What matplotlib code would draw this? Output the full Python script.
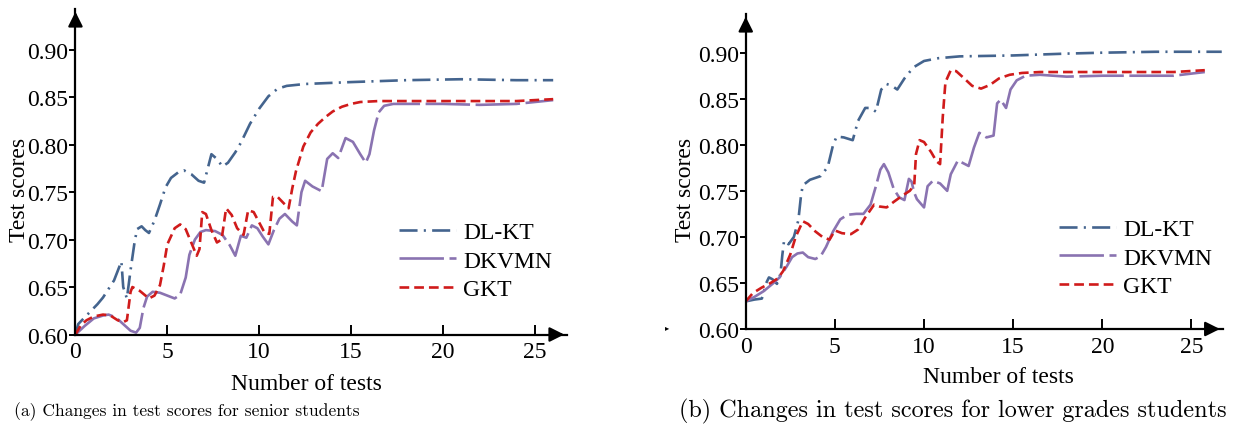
import matplotlib
matplotlib.use("Agg")
import matplotlib.pyplot as plt

plt.rcParams['font.family'] = ['Liberation Serif', 'DejaVu Serif']
plt.rcParams['lines.scale_dashes'] = False

# ---- data: (a) senior students ----
a_dlkt_x = [0.0, 0.15, 0.5, 0.8, 1.2, 1.5, 1.8, 2.1, 2.4, 2.5, 2.6, 2.8, 3.0, 3.2, 3.35, 3.6, 3.8, 4.0,
            4.3, 4.6, 4.9, 5.2, 5.6, 5.9, 6.3, 6.7, 7.0, 7.2, 7.4, 7.7, 8.0, 8.3, 8.7, 9.0, 9.5, 10.0,
            10.5, 11.0, 11.5, 12.5, 15.0, 18.0, 21.0, 24.0, 26.0]
a_dlkt_y = [0.600, 0.611, 0.618, 0.624, 0.632, 0.639, 0.648, 0.657, 0.672, 0.677, 0.650, 0.638, 0.668,
            0.695, 0.711, 0.714, 0.710, 0.707, 0.720, 0.737, 0.755, 0.765, 0.771, 0.773, 0.769, 0.762,
            0.760, 0.775, 0.790, 0.785, 0.777, 0.781, 0.792, 0.802, 0.822, 0.838, 0.851, 0.859, 0.862,
            0.864, 0.866, 0.868, 0.869, 0.868, 0.868]

a_dkvmn_x = [0.0, 0.5, 1.0, 1.5, 1.8, 2.2, 2.6, 3.0, 3.3, 3.5, 3.7, 3.9, 4.2, 4.6, 5.0, 5.4, 5.7, 6.0,
             6.2, 6.5, 6.8, 7.1, 7.6, 8.0, 8.4, 8.7, 9.0, 9.3, 9.6, 9.9, 10.2, 10.5, 10.8, 11.1, 11.4,
             11.8, 12.05, 12.3, 12.5, 12.9, 13.4, 13.7, 14.0, 14.3, 14.7, 15.1, 15.5, 15.8, 16.0, 16.25,
             16.5, 16.8, 17.3, 18.5, 20.0, 22.0, 24.0, 26.0]
a_dkvmn_y = [0.600, 0.609, 0.617, 0.620, 0.621, 0.618, 0.611, 0.604, 0.602, 0.607, 0.628, 0.640, 0.645,
             0.644, 0.641, 0.638, 0.642, 0.660, 0.684, 0.700, 0.708, 0.710, 0.709, 0.705, 0.694, 0.683,
             0.704, 0.702, 0.715, 0.712, 0.703, 0.695, 0.710, 0.722, 0.727, 0.719, 0.715, 0.750, 0.762,
             0.756, 0.751, 0.785, 0.791, 0.786, 0.807, 0.803, 0.790, 0.781, 0.790, 0.815, 0.834, 0.841,
             0.843, 0.843, 0.843, 0.842, 0.843, 0.847]

a_gkt_x = [0.0, 0.3, 0.6, 1.0, 1.5, 1.9, 2.3, 2.6, 2.8, 3.0, 3.1, 3.5, 4.0, 4.3, 4.6, 4.8, 5.0, 5.4, 5.7,
           6.0, 6.3, 6.6, 6.75, 6.9, 7.1, 7.4, 7.7, 7.95, 8.2, 8.5, 8.8, 9.15, 9.4, 9.7, 10.0, 10.3,
           10.55, 10.75, 11.0, 11.3, 11.6, 11.8, 12.0, 12.4, 12.8, 13.2, 13.6, 14.0, 14.5, 15.0, 15.5,
           16.5, 18.0, 20.0, 22.0, 24.0, 26.0]
a_gkt_y = [0.600, 0.610, 0.615, 0.619, 0.621, 0.620, 0.615, 0.613, 0.615, 0.645, 0.650, 0.646, 0.638,
           0.641, 0.652, 0.672, 0.695, 0.712, 0.716, 0.711, 0.697, 0.683, 0.690, 0.729, 0.727, 0.710,
           0.697, 0.700, 0.733, 0.726, 0.712, 0.705, 0.731, 0.729, 0.718, 0.707, 0.706, 0.745, 0.745,
           0.739, 0.733, 0.754, 0.772, 0.798, 0.813, 0.822, 0.829, 0.835, 0.840, 0.843, 0.845, 0.846,
           0.846, 0.846, 0.846, 0.846, 0.848]

# ---- data: (b) lower grades students ----
b_dlkt_x = [0.0, 0.5, 0.9, 1.0, 1.1, 1.3, 1.5, 1.75, 1.95, 2.05, 2.15, 2.4, 2.7, 2.95, 3.1, 3.2, 3.6, 4.2,
            4.6, 4.9, 5.1, 5.5, 6.0, 6.3, 6.7, 7.0, 7.3, 7.6, 7.9, 8.2, 8.5, 8.9, 9.4, 10.0, 10.8, 12.0,
            15.0, 18.0, 20.0, 23.0, 26.7]
b_dlkt_y = [0.630, 0.632, 0.633, 0.638, 0.648, 0.656, 0.654, 0.649, 0.660, 0.680, 0.696, 0.692, 0.700,
            0.718, 0.745, 0.756, 0.762, 0.766, 0.776, 0.800, 0.809, 0.808, 0.805, 0.826, 0.840, 0.840,
            0.836, 0.860, 0.866, 0.864, 0.860, 0.872, 0.884, 0.891, 0.894, 0.896, 0.897, 0.899, 0.900,
            0.901, 0.901]

b_dkvmn_x = [0.0, 0.5, 1.0, 1.5, 1.9, 2.3, 2.6, 2.9, 3.2, 3.5, 3.9, 4.2, 4.5, 4.9, 5.3, 5.7, 6.2, 6.6,
             7.0, 7.3, 7.55, 7.75, 8.0, 8.3, 8.6, 8.9, 9.15, 9.3, 9.45, 9.6, 10.0, 10.2, 10.5, 10.9, 11.3,
             11.5, 11.9, 12.2, 12.5, 12.8, 13.1, 13.5, 13.9, 14.1, 14.3, 14.6, 14.85, 15.2, 15.7, 16.5,
             18.0, 20.0, 22.0, 24.0, 25.75]
b_dkvmn_y = [0.630, 0.635, 0.641, 0.649, 0.656, 0.668, 0.678, 0.682, 0.683, 0.678, 0.676, 0.679, 0.689,
             0.706, 0.719, 0.724, 0.725, 0.725, 0.735, 0.755, 0.773, 0.779, 0.770, 0.752, 0.743, 0.740,
             0.763, 0.760, 0.748, 0.741, 0.732, 0.755, 0.761, 0.758, 0.750, 0.768, 0.783, 0.780, 0.777,
             0.797, 0.813, 0.808, 0.810, 0.845, 0.849, 0.840, 0.860, 0.870, 0.875, 0.876, 0.874, 0.875,
             0.875, 0.875, 0.879]

b_gkt_x = [0.0, 0.4, 0.9, 1.4, 1.8, 2.1, 2.5, 2.8, 3.2, 3.5, 3.9, 4.3, 4.7, 5.0, 5.4, 5.9, 6.3, 6.7, 7.2,
           7.5, 7.9, 8.3, 8.8, 9.2, 9.45, 9.55, 9.75, 10.0, 10.4, 10.7, 10.9, 11.05, 11.2, 11.5, 11.8,
           12.2, 12.7, 13.2, 13.7, 14.2, 14.8, 15.5, 16.5, 18.0, 20.0, 22.0, 24.0, 25.75]
b_gkt_y = [0.630, 0.639, 0.645, 0.650, 0.655, 0.663, 0.681, 0.700, 0.717, 0.714, 0.706, 0.700, 0.697,
           0.707, 0.704, 0.703, 0.708, 0.721, 0.735, 0.733, 0.732, 0.738, 0.745, 0.750, 0.756, 0.790,
           0.805, 0.803, 0.792, 0.782, 0.779, 0.830, 0.868, 0.881, 0.880, 0.873, 0.864, 0.861, 0.865,
           0.872, 0.876, 0.878, 0.879, 0.879, 0.879, 0.879, 0.879, 0.881]

labels = ['DL-KT', 'DKVMN', 'GKT']
xticks = [0, 5, 10, 15, 20, 25]
yticks = [0.60, 0.65, 0.70, 0.75, 0.80, 0.85, 0.90]
captions = ['(a) Changes in test scores for senior students',
            '(b) Changes in test scores for lower grades students']

colors = ['#44648e', '#8a73b1', '#d01b1b']
dashes = [(13, 4.5, 1.5, 4.5), (32, 4), (7, 3.6)]

fig = plt.figure(figsize=(12.39, 4.35), dpi=100)
ax1 = fig.add_axes([0.0609, 0.2287, 0.3967, 0.7483])
ax2 = fig.add_axes([0.6019, 0.2414, 0.3849, 0.7241])

panels = [
    (ax1, [(a_dlkt_x, a_dlkt_y), (a_dkvmn_x, a_dkvmn_y), (a_gkt_x, a_gkt_y)], 0.943, 0.640,
     (0.469, -0.118), (-0.092, 0.447)),
    (ax2, [(b_dlkt_x, b_dlkt_y), (b_dkvmn_x, b_dkvmn_y), (b_gkt_x, b_gkt_y)], 0.942, 0.638,
     (0.529, -0.117), (-0.104, 0.444)),
]

for ax, series, ytop, legx, xl_pos, yl_pos in panels:
    for (x, y), lab, c, d in zip(series, labels, colors, dashes):
        ax.plot(x, y, color=c, lw=1.9, dashes=d, label=lab)
    ax.set_xlim(0, 26.75)
    ax.set_ylim(0.60, ytop)
    ax.set_xticks(xticks)
    ax.set_yticks(yticks)
    ax.set_yticklabels(['%.2f' % v for v in yticks])
    for s in ['top', 'right']:
        ax.spines[s].set_visible(False)
    for s in ['left', 'bottom']:
        ax.spines[s].set_linewidth(1.6)
    ax.tick_params(axis='x', direction='in', length=7, width=1.4, labelsize=17, pad=5)
    ax.tick_params(axis='y', direction='out', length=4, width=1.4, labelsize=17, pad=1)
    ax.set_xlabel('Number of tests', fontsize=17)
    ax.set_ylabel('Test scores', fontsize=17)
    ax.xaxis.set_label_coords(*xl_pos)
    ax.yaxis.set_label_coords(*yl_pos)
    # arrow heads on the axes
    ax.annotate('', xy=(1.0, 0), xytext=(0.96, 0), xycoords='axes fraction',
                arrowprops=dict(arrowstyle='-|>', color='k', lw=1.6, mutation_scale=22))
    ax.annotate('', xy=(0, 1.0), xytext=(0, 0.95), xycoords='axes fraction',
                arrowprops=dict(arrowstyle='-|>', color='k', lw=1.6, mutation_scale=22))
    ax.legend(loc='center left', bbox_to_anchor=(legx, 0.226), frameon=False, fontsize=17,
              handlelength=2.4, handletextpad=0.3, labelspacing=0.3, borderaxespad=0)

fig.text(187 / 1239, 1 - 412 / 435, captions[0], ha='center', va='center',
         fontsize=12.6, family='cmr10')
fig.text(953 / 1239, 1 - 411 / 435, captions[1], ha='center', va='center',
         fontsize=17.4, family='cmr10')
fig.text(667 / 1239, 1 - 328 / 435, '\u25b8', ha='center', va='center', fontsize=6,
         family='DejaVu Sans')

fig.savefig('out.png', dpi=100)
